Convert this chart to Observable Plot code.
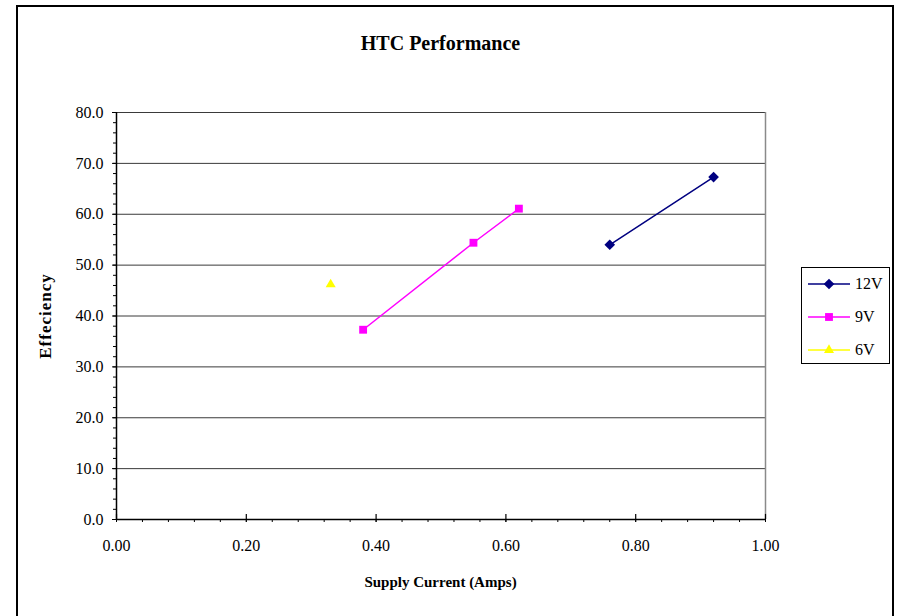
<!DOCTYPE html>
<html>
<head>
<meta charset="utf-8">
<script src="https://cdn.jsdelivr.net/npm/d3@7"></script>
<script src="https://cdn.jsdelivr.net/npm/@observablehq/plot@0.6"></script>
<style>
  html, body { margin: 0; padding: 0; background: #fff; }
  #chart { position: relative; width: 899px; height: 616px; overflow: hidden; font-family: "Liberation Serif", "Times New Roman", serif; }
  #frame { position: absolute; left: 16px; top: 5px; width: 878px; height: 640px; border: 2px solid #000; box-sizing: border-box; }
  #title { position: absolute; left: 116px; width: 649px; top: 32px; text-align: center; font-weight: bold; font-size: 20px; }
  #xtitle { position: absolute; left: 116px; width: 649px; top: 574px; text-align: center; font-weight: bold; font-size: 15px; }
  #ytitle { position: absolute; left: 46px; top: 316px; transform: translate(-50%, -50%) rotate(-90deg); font-weight: bold; font-size: 17px; letter-spacing: 1px; white-space: nowrap; }
  #legend { position: absolute; left: 801px; top: 267px; width: 89px; height: 97px; border: 1px solid #000; box-sizing: border-box; background: #fff; }
  .lrow { position: absolute; left: 5px; height: 20px; display: flex; align-items: center; font-size: 16px; }
  .lrow svg { margin-right: 4px; }
  #plot { position: absolute; left: 0; top: 0; }
</style>
</head>
<body>
<div id="chart">
  <div id="frame"></div>
  <div id="plot"></div>
  <div id="title">HTC Performance</div>
  <div id="xtitle">Supply Current (Amps)</div>
  <div id="ytitle">Effeciency</div>
  <div id="legend"></div>
</div>
<script>
// Data
const seriesNames = ["12V", "9V", "6V"];
const seriesColors = ["#000080", "#FF00FF", "#FFFF00"];
const seriesSymbols = ["diamond2", "square2", "triangle2"];
const current12V = [0.76, 0.92];
const eff12V = [54.0, 67.3];
const current9V = [0.38, 0.55, 0.62];
const eff9V = [37.3, 54.4, 61.1];
const current6V = [0.33];
const eff6V = [46.2];
const xTicks = [0, 0.2, 0.4, 0.6, 0.8, 1.0];
const yTicks = [0, 10, 20, 30, 40, 50, 60, 70, 80];

const rows = [];
[[current12V, eff12V], [current9V, eff9V], [current6V, eff6V]].forEach(([xs, ys], i) => {
  xs.forEach((x, j) => rows.push({series: seriesNames[i], x, y: ys[j]}));
});

const xMinor = d3.range(0, 1.0001, 0.04).map(v => +v.toFixed(2));
const yMinor = d3.range(0, 80.001, 2);

const symbolSizes = {"12V": 4.8, "9V": 5, "6V": 4.8};

const plot = Plot.plot({
  width: 899,
  height: 616,
  marginLeft: 116,
  marginRight: 134,
  marginTop: 112,
  marginBottom: 97,
  style: {fontFamily: "'Liberation Serif', 'Times New Roman', serif", fontSize: "16px", color: "#000", background: "transparent"},
  x: {domain: [0, 1], label: null},
  y: {domain: [0, 80], label: null},
  color: {domain: seriesNames, range: seriesColors},
  symbol: {domain: seriesNames, range: seriesSymbols},
  marks: [
    Plot.ruleY(yTicks.slice(1), {stroke: "#3a3a3a", strokeWidth: 1}),
    Plot.ruleX([1], {stroke: "#8a8a8a", strokeWidth: 1.5}),
    Plot.ruleX(xTicks, {y1: 0, y2: 1, stroke: "#000", strokeWidth: 1.2}),
    Plot.axisY({ticks: yMinor, tickSize: 3, text: null, stroke: "#000"}),
    Plot.axisY({ticks: yTicks, tickSize: 4, tickPadding: 9, tickFormat: d3.format(".1f"), stroke: "#000", fontSize: 16}),
    Plot.axisX({ticks: xMinor, tickSize: 3, text: null, stroke: "#000"}),
    Plot.axisX({ticks: xTicks, tickSize: 3, tickPadding: 17, tickFormat: d3.format(".2f"), stroke: "#000", fontSize: 16}),
    Plot.ruleY([0], {stroke: "#000", strokeWidth: 1.5}),
    Plot.ruleX([0], {stroke: "#000", strokeWidth: 1.5}),
    Plot.line(rows, {x: "x", y: "y", z: "series", stroke: "series", strokeWidth: 1.5}),
    ...seriesNames.map(s => Plot.dot(rows.filter(d => d.series === s), {x: "x", y: "y", fill: "series", symbol: "series", r: symbolSizes[s], stroke: null}))
  ]
});
document.getElementById("plot").appendChild(plot);

// Legend
const legend = document.getElementById("legend");
seriesNames.forEach((name, i) => {
  const row = document.createElement("div");
  row.className = "lrow";
  row.style.top = (6 + i * 33) + "px";
  const svg = d3.create("svg").attr("width", 44).attr("height", 14);
  svg.append("line").attr("x1", 1).attr("x2", 43).attr("y1", 7).attr("y2", 7)
    .attr("stroke", seriesColors[i]).attr("stroke-width", 1.5);
  const symType = [d3.symbolDiamond2, d3.symbolSquare2, d3.symbolTriangle2][i];
  const r = symbolSizes[name];
  svg.append("path").attr("d", d3.symbol(symType, Math.PI * r * r)())
    .attr("transform", "translate(22,7)").attr("fill", seriesColors[i]);
  row.appendChild(svg.node());
  const t = document.createElement("span");
  t.textContent = name;
  row.appendChild(t);
  legend.appendChild(row);
});
</script>
</body>
</html>
